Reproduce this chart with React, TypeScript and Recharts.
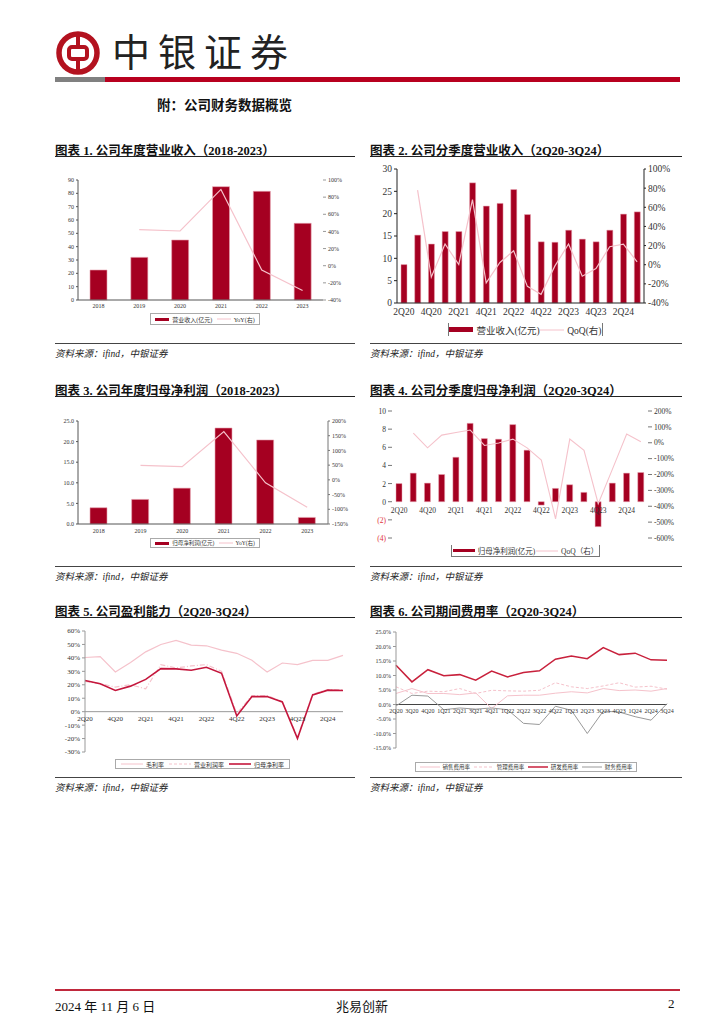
import React from "react";
import {
  ComposedChart, Bar, Line, XAxis, YAxis, ReferenceLine,
} from "recharts";

const FONT = "'Liberation Serif', 'Noto Sans CJK SC', serif";
const CJK = "'Noto Sans CJK SC', sans-serif";

const RED = "#a50021";
const PINK = "#f5c2cb";
const DEEP = "#c4163c";
const GRAY = "#9a9a9a";

// ---- data ----
const years = ["2018", "2019", "2020", "2021", "2022", "2023"];
const revAnnual = [22.5, 32, 45, 85, 81.5, 57.5];
const revYoY = [null, 42, 40.5, 89, -5, -29];
const profitAnnual = [3.95, 5.97, 8.7, 23.3, 20.4, 1.6];
const profitYoY = [null, 49, 45, 164, -10, -93];

const quarters = [
  "2Q20", "3Q20", "4Q20", "1Q21", "2Q21", "3Q21", "4Q21", "1Q22", "2Q22",
  "3Q22", "4Q22", "1Q23", "2Q23", "3Q23", "4Q23", "1Q24", "2Q24", "3Q24",
];
const revQ = [8.6, 15.2, 13.2, 16.0, 16.0, 26.9, 21.7, 22.3, 25.4, 19.8, 13.7, 13.6, 16.3, 14.3, 13.7, 16.3, 19.9, 20.4];
const revQoQ = [null, 78, -13, 21.6, 0.2, 68, -19, 2.3, 14.6, -22.6, -31, -1.5, 21.6, -12, -4, 18.8, 21.4, 3];
const profitQ = [2.0, 3.15, 2.05, 3.0, 4.9, 8.64, 6.96, 6.89, 8.5, 5.68, -0.37, 1.47, 1.87, 1.03, -2.75, 2.05, 3.15, 3.22];
const profitQoQ = [null, 61, -32, 48, 65, 80, -17, -2, 23, -32, -109, -479, 23, -48, -384, -166, 55, 6];

const grossMargin = [40.3, 41, 29.5, 36.5, 44.5, 50, 53, 49.5, 49, 45.8, 43.4, 38.2, 29.5, 36.2, 35, 38.2, 38.2, 41.9];
const opMargin = [22.5, 20.8, 18.3, 20, 17, 35, 32.5, 34, 35, 30, -1.5, 12, 12, 7.5, -19, 13, 16.5, 16.5];
const netMargin = [23.2, 20.8, 15.8, 19, 24, 32, 31.8, 30.8, 33, 28.5, -3.2, 11.2, 11.2, 7.2, -20, 12.5, 16, 15.7];

const sellRate = [3.8, 5.5, 3.8, 3.8, 3.4, 4.0, -1.4, 3.0, 3.2, 3.2, 3.9, 4.4, 4.0, 5.5, 4.8, 5.0, 4.6, 5.5];
const adminRate = [6.1, 3.8, 4.6, 4.4, 5.5, 3.8, 4.9, 4.7, 4.6, 4.9, 7.5, 6.1, 5.5, 6.4, 7.5, 6.0, 6.3, 5.3];
const rdRate = [13.5, 7.8, 12.0, 9.9, 10.3, 8.4, 11.5, 9.5, 11.0, 11.6, 15.6, 16.7, 15.8, 19.6, 17.2, 17.7, 15.4, 15.3];
const finRate = [-0.5, 3.2, 2.9, -1.8, -1.2, -1.6, -1.2, -1.8, -6.5, -6.9, -0.6, -2.0, -10.0, -2.3, -2.6, -4.2, -5.4, 0.3];

const ticks1L = [0, 10, 20, 30, 40, 50, 60, 70, 80, 90];
const ticks1R = [-40, -20, 0, 20, 40, 60, 80, 100];
const ticks2L = [0, 5, 10, 15, 20, 25, 30];
const ticks2R = [-40, -20, 0, 20, 40, 60, 80, 100];
const ticks3L = [0, 5, 10, 15, 20, 25];
const ticks3R = [-150, -100, -50, 0, 50, 100, 150, 200];
const ticks4L = [-4, -2, 0, 2, 4, 6, 8, 10];
const ticks4R = [-600, -500, -400, -300, -200, -100, 0, 100, 200];
const ticks5 = [-30, -20, -10, 0, 10, 20, 30, 40, 50, 60];
const ticks6 = [-15, -10, -5, 0, 5, 10, 15, 20, 25];

const annualRev = years.map((y, i) => ({ y, v: revAnnual[i], r: revYoY[i] }));
const annualProfit = years.map((y, i) => ({ y, v: profitAnnual[i], r: profitYoY[i] }));
const qData = quarters.map((q, i) => ({
  q,
  rev: revQ[i], revQoQ: revQoQ[i],
  profit: profitQ[i], profitQoQ: profitQoQ[i],
  gross: grossMargin[i], op: opMargin[i], net: netMargin[i],
  sell: sellRate[i], admin: adminRate[i], rd: rdRate[i], fin: finRate[i],
}));

const pct = (v: number) => `${v}%`;
const tickStyle = (size: number) => ({ fontSize: size, fill: "#333", fontFamily: FONT });

// label drawn at the zero line instead of the plot bottom
const zeroTick = (lift: number, size: number, dy: number) => (props: any) => {
  const { x, y, payload } = props;
  return (
    <text x={x} y={y - lift + dy} textAnchor="middle" fontSize={size} fontFamily={FONT} fill="#333">
      {payload.value}
    </text>
  );
};

type Item = { label: string; kind: "bar" | "line" | "dash"; color: string; thick?: number };

function LegendBox({ x, y, w, h, items, size, sw, border }: {
  x: number; y: number; w: number; h: number; items: Item[]; size: number; sw: number; border: "full" | "sides" | "sides-bottom";
}) {
  const b = "1px solid #777";
  const style: any = {
    position: "absolute", left: x, top: y, width: w, height: h, boxSizing: "border-box",
    display: "flex", alignItems: "center", justifyContent: "space-evenly",
    fontSize: size, fontFamily: FONT, color: "#333", whiteSpace: "nowrap",
  };
  if (border === "full") style.border = "1px solid #aaa";
  else { style.borderLeft = b; style.borderRight = b; if (border === "sides-bottom") style.borderBottom = b; }
  return (
    <div style={style}>
      {items.map((it) => (
        <div key={it.label} style={{ display: "flex", alignItems: "center", gap: 3 }}>
          {it.kind === "bar" ? (
            <div style={{ width: sw, height: Math.max(3, size * 0.5), background: it.color }} />
          ) : (
            <svg width={sw} height={4}>
              <line x1={0} y1={2} x2={sw} y2={2} stroke={it.color} strokeWidth={it.thick ?? 1}
                strokeDasharray={it.kind === "dash" ? "3 2" : undefined} />
            </svg>
          )}
          <span>{it.label}</span>
        </div>
      ))}
    </div>
  );
}

function Title({ x, y, w, text }: { x: number; y: number; w: number; text: string }) {
  return (
    <>
      <div style={{ position: "absolute", left: x, top: y, fontSize: 12.5, fontWeight: 700, fontFamily: FONT, color: "#111", whiteSpace: "nowrap" }}>
        {text}
      </div>
      <div style={{ position: "absolute", left: x, top: y + 16, width: w, height: 1.3, background: "#222" }} />
    </>
  );
}

function Source({ x, y, w }: { x: number; y: number; w: number }) {
  return (
    <>
      <div style={{ position: "absolute", left: x, top: y, width: w, height: 1, background: "#444" }} />
      <div style={{ position: "absolute", left: x, top: y + 3, fontSize: 9.5, fontStyle: "italic", fontFamily: FONT, color: "#222", whiteSpace: "nowrap" }}>
        资料来源：ifind，中银证券
      </div>
    </>
  );
}

function Logo() {
  return (
    <svg width={44} height={44} viewBox="0 0 44 44" style={{ position: "absolute", left: 56, top: 31 }}>
      <circle cx={22} cy={22} r={19} fill="none" stroke="#b3121f" strokeWidth={5.5} />
      <rect x={13} y={16} width={18} height={12} rx={3} fill="none" stroke="#b3121f" strokeWidth={4} />
      <line x1={22} y1={4} x2={22} y2={16} stroke="#b3121f" strokeWidth={4} />
      <line x1={22} y1={28} x2={22} y2={40} stroke="#b3121f" strokeWidth={4} />
    </svg>
  );
}

const abs = (left: number, top: number) => ({ position: "absolute" as const, left, top });

export default function App() {
  return (
    <div style={{ position: "absolute", left: 0, top: 0, width: 724, height: 1024, background: "#fff", fontFamily: FONT }}>
      {/* header */}
      <Logo />
      <div style={{ ...abs(112, 28), fontSize: 38, letterSpacing: 8, fontFamily: CJK, color: "#222", lineHeight: "44px" }}>中银证券</div>
      <div style={{ ...abs(55, 77), width: 50, height: 5, background: "#808080" }} />
      <div style={{ ...abs(105, 77), width: 575, height: 5, background: "#b8001f" }} />
      <div style={{ ...abs(157, 94), fontSize: 13.5, fontWeight: 700, color: "#111" }}>附：公司财务数据概览</div>

      <Title x={55} y={140} w={300} text="图表 1. 公司年度营业收入（2018-2023）" />
      <Title x={370} y={140} w={312} text="图表 2. 公司分季度营业收入（2Q20-3Q24）" />
      <Title x={55} y={380} w={300} text="图表 3. 公司年度归母净利润（2018-2023）" />
      <Title x={370} y={380} w={312} text="图表 4. 公司分季度归母净利润（2Q20-3Q24）" />
      <Title x={55} y={601} w={300} text="图表 5. 公司盈利能力（2Q20-3Q24）" />
      <Title x={370} y={601} w={312} text="图表 6. 公司期间费用率（2Q20-3Q24）" />

      {/* chart 1 */}
      <div style={abs(55, 170)}>
        <ComposedChart width={300} height={140} data={annualRev} margin={{ top: 10, right: 0, bottom: 0, left: 0 }}>
          <XAxis dataKey="y" height={10} tick={tickStyle(6)} tickLine={false} tickSize={2} axisLine={{ stroke: "#555" }} interval={0} />
          <YAxis yAxisId="l" width={23} interval={0} domain={[0, 90]} ticks={ticks1L} tick={tickStyle(6)} tickSize={2} tickLine={{ stroke: "#555" }} axisLine={{ stroke: "#555" }} />
          <YAxis yAxisId="r" orientation="right" width={32} interval={0} domain={[-40, 100]} ticks={ticks1R} tickFormatter={pct} tick={tickStyle(6)} tickSize={3} tickLine={{ stroke: "#999" }} axisLine={false} />
          <Bar yAxisId="l" dataKey="v" fill={RED} stroke="#e8a3b0" strokeWidth={0.6} barSize={17} isAnimationActive={false} />
          <Line yAxisId="r" dataKey="r" stroke={PINK} strokeWidth={1.2} dot={false} isAnimationActive={false} />
        </ComposedChart>
      </div>
      <LegendBox x={150} y={313} w={110} h={12} size={6} sw={14} border="full"
        items={[{ label: "营业收入(亿元)", kind: "bar", color: RED }, { label: "YoY(右)", kind: "line", color: PINK }]} />

      {/* chart 2 */}
      <div style={abs(370, 160)}>
        <ComposedChart width={312} height={160} data={qData} margin={{ top: 9, right: 0, bottom: 0, left: 0 }}>
          <XAxis dataKey="q" height={17} tick={tickStyle(9.5)} tickLine={false} tickSize={3} axisLine={{ stroke: "#222" }} interval={1} />
          <YAxis yAxisId="l" width={27} interval={0} domain={[0, 30]} ticks={ticks2L} tick={tickStyle(9.5)} tickSize={3} tickLine={{ stroke: "#222" }} axisLine={{ stroke: "#222" }} />
          <YAxis yAxisId="r" orientation="right" width={38} interval={0} domain={[-40, 100]} ticks={ticks2R} tickFormatter={pct} tick={tickStyle(9.5)} tickSize={2} tickLine={{ stroke: "#222" }} axisLine={{ stroke: "#222" }} />
          <Bar yAxisId="l" dataKey="rev" fill={RED} stroke="#e8a3b0" strokeWidth={0.5} barSize={6} isAnimationActive={false} />
          <Line yAxisId="r" dataKey="revQoQ" stroke={PINK} strokeWidth={1.2} dot={false} isAnimationActive={false} />
        </ComposedChart>
      </div>
      <LegendBox x={448} y={323} w={155} h={13} size={9.5} sw={24} border="sides"
        items={[{ label: "营业收入(亿元)", kind: "bar", color: RED }, { label: "QoQ(右)", kind: "line", color: PINK }]} />
      <Source x={55} y={343} w={300} />
      <Source x={370} y={343} w={312} />

      {/* chart 3 */}
      <div style={abs(55, 410)}>
        <ComposedChart width={300} height={130} data={annualProfit} margin={{ top: 11, right: 0, bottom: 0, left: 0 }}>
          <XAxis dataKey="y" height={16} tick={tickStyle(6)} tickLine={false} tickSize={3} axisLine={{ stroke: "#555" }} interval={0} />
          <YAxis yAxisId="l" width={23} interval={0} domain={[0, 25]} ticks={ticks3L} tickFormatter={(v: number) => v.toFixed(1)} tick={tickStyle(6)} tickSize={2} tickLine={{ stroke: "#555" }} axisLine={{ stroke: "#555" }} />
          <YAxis yAxisId="r" orientation="right" width={27} interval={0} domain={[-150, 200]} ticks={ticks3R} tickFormatter={pct} tick={tickStyle(6)} tickSize={2} tickLine={{ stroke: "#777" }} axisLine={{ stroke: "#777" }} />
          <Bar yAxisId="l" dataKey="v" fill={RED} stroke="#e8a3b0" strokeWidth={0.6} barSize={17} isAnimationActive={false} />
          <Line yAxisId="r" dataKey="r" stroke={PINK} strokeWidth={1.2} dot={false} isAnimationActive={false} />
        </ComposedChart>
      </div>
      <LegendBox x={150} y={538} w={110} h={10} size={5.5} sw={14} border="full"
        items={[{ label: "归母净利润(亿元)", kind: "bar", color: RED }, { label: "YoY(右)", kind: "line", color: PINK }]} />

      {/* chart 4 */}
      <div style={abs(370, 400)}>
        <ComposedChart width={312} height={145} data={qData} margin={{ top: 11, right: 0, bottom: 0, left: 0 }}>
          <XAxis dataKey="q" height={7} tick={zeroTick(127 * 4 / 14, 7.5, 11)} tickLine={false} tickSize={0} tickMargin={0} axisLine={false} interval={1} />
          <YAxis yAxisId="l" width={22} interval={0} domain={[-4, 10]} ticks={ticks4L} tickSize={4} tickLine={{ stroke: "#777" }} axisLine={false}
            tick={(p: any) => {
              const v = p.payload.value;
              return (
                <text x={p.x} y={p.y} dy={3} textAnchor="end" fontSize={7.5} fontFamily={FONT} fill={v < 0 ? "#e0303c" : "#333"}>
                  {v < 0 ? `(${-v})` : v}
                </text>
              );
            }} />
          <YAxis yAxisId="r" orientation="right" width={34} interval={0} domain={[-600, 200]} ticks={ticks4R} tickFormatter={pct} tick={tickStyle(7.5)} tickSize={4} tickLine={{ stroke: "#777" }} axisLine={false} />
          <Bar yAxisId="l" dataKey="profit" fill={RED} stroke="#e8a3b0" strokeWidth={0.5} barSize={6} isAnimationActive={false} />
          <Line yAxisId="r" dataKey="profitQoQ" stroke={PINK} strokeWidth={1.1} dot={false} isAnimationActive={false} />
        </ComposedChart>
      </div>
      <LegendBox x={451} y={545} w={149} h={12} size={7.5} sw={22} border="sides-bottom"
        items={[{ label: "归母净利润(亿元)", kind: "bar", color: RED }, { label: "QoQ（右）", kind: "line", color: PINK }]} />
      <Source x={55} y={566} w={300} />
      <Source x={370} y={566} w={312} />

      {/* chart 5 */}
      <div style={abs(55, 625)}>
        <ComposedChart width={300} height={135} data={qData} margin={{ top: 6, right: 12, bottom: 0, left: 0 }}>
          <XAxis dataKey="q" height={8} tick={zeroTick(121 * 30 / 90, 7, 9.5)} tickLine={false} tickSize={0} tickMargin={0} axisLine={false} interval={1} />
          <YAxis width={30} interval={0} domain={[-30, 60]} ticks={ticks5} tickFormatter={pct} tick={tickStyle(7)} tickSize={3} tickLine={{ stroke: "#999" }} axisLine={{ stroke: "#999" }} />
          <ReferenceLine y={0} stroke="#999" />
          <Line dataKey="gross" stroke={PINK} strokeWidth={1.2} dot={false} isAnimationActive={false} />
          <Line dataKey="op" stroke={PINK} strokeWidth={1.2} strokeDasharray="5 2 1 2" dot={false} isAnimationActive={false} />
          <Line dataKey="net" stroke={DEEP} strokeWidth={1.6} dot={false} isAnimationActive={false} />
        </ComposedChart>
      </div>
      <LegendBox x={115} y={759} w={175} h={10} size={6} sw={22} border="full"
        items={[
          { label: "毛利率", kind: "line", color: PINK },
          { label: "营业利润率", kind: "dash", color: PINK },
          { label: "归母净利率", kind: "line", color: DEEP, thick: 1.6 },
        ]} />

      {/* chart 6 */}
      <div style={abs(370, 625)}>
        <ComposedChart width={312} height={135} data={qData} margin={{ top: 7, right: 15, bottom: 0, left: 0 }}>
          <XAxis dataKey="q" height={12} tick={zeroTick(116 * 15 / 40, 6, 8)} tickLine={false} tickSize={0} tickMargin={0} axisLine={false} interval={0} />
          <YAxis width={26} interval={0} domain={[-15, 25]} ticks={ticks6} tickFormatter={(v: number) => `${v.toFixed(1)}%`} tick={tickStyle(6)} tickSize={3} tickLine={{ stroke: "#999" }} axisLine={{ stroke: "#999" }} />
          <ReferenceLine y={0} stroke="#444" />
          <Line dataKey="sell" stroke={PINK} strokeWidth={1} dot={false} isAnimationActive={false} />
          <Line dataKey="admin" stroke={PINK} strokeWidth={1} strokeDasharray="3 2" dot={false} isAnimationActive={false} />
          <Line dataKey="rd" stroke="#c8213c" strokeWidth={1.5} dot={false} isAnimationActive={false} />
          <Line dataKey="fin" stroke={GRAY} strokeWidth={1} dot={false} isAnimationActive={false} />
        </ComposedChart>
      </div>
      <LegendBox x={415} y={762} w={222} h={10} size={5.5} sw={20} border="full"
        items={[
          { label: "销售费用率", kind: "line", color: PINK },
          { label: "管理费用率", kind: "dash", color: PINK },
          { label: "研发费用率", kind: "line", color: "#c8213c", thick: 1.5 },
          { label: "财务费用率", kind: "line", color: GRAY },
        ]} />
      <Source x={55} y={777} w={300} />
      <Source x={370} y={777} w={312} />

      {/* footer */}
      <div style={{ ...abs(55, 989), width: 625, height: 2, background: "#c0283c" }} />
      <div style={{ ...abs(55, 996), fontSize: 13, color: "#111" }}>2024 年 11 月 6 日</div>
      <div style={{ ...abs(336, 996), fontSize: 13, color: "#111" }}>兆易创新</div>
      <div style={{ ...abs(668, 996), fontSize: 13, color: "#111" }}>2</div>
    </div>
  );
}
